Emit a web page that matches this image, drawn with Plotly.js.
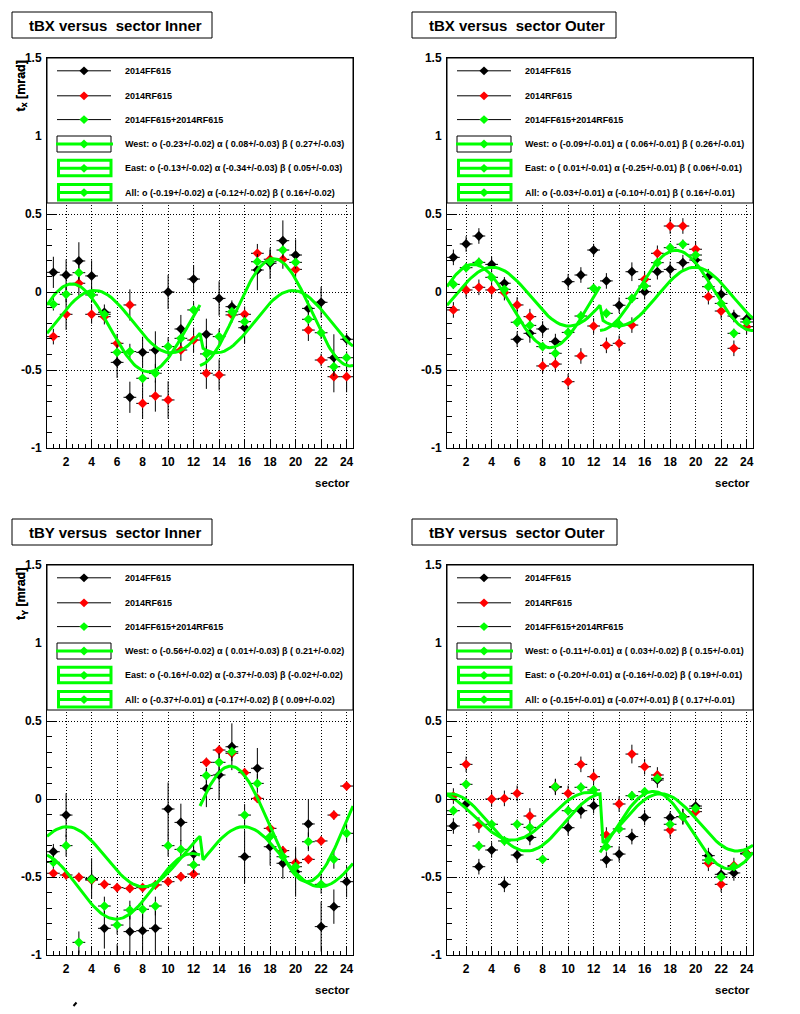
<!DOCTYPE html>
<html><head><meta charset="utf-8">
<script src="https://cdn.plot.ly/plotly-3.0.1.min.js"></script>
<style>html,body{margin:0;padding:0;background:#fff}#chart{width:800px;height:1014px}</style>
</head><body><div id="chart"></div>
<script>
// ---------------- data ----------------
const sectors = [1,2,3,4,5,6,7,8,9,10,11,12,13,14,15,16,17,18,19,20,21,22,23,24];
const sectorTickVals = [2,4,6,8,10,12,14,16,18,20,22,24];
const sectorTickText = ["2","4","6","8","10","12","14","16","18","20","22","24"];
const valueTickVals = [-1,-0.5,0,0.5,1,1.5];
const valueTickText = ["-1","-0.5","0","0.5","1","1.5"];
const seriesNames = ["2014FF615","2014RF615","2014FF615+2014RF615"];
const panelTitles = ["tBX versus\u00a0 sector Inner","tBX versus\u00a0 sector Outer","tBY versus\u00a0 sector Inner","tBY versus\u00a0 sector Outer"];
const panelYLabels = ["t<sub>x</sub> [mrad]","t<sub>x</sub> [mrad]","t<sub>Y</sub> [mrad]","t<sub>Y</sub> [mrad]"];
const xAxisLabel = "sector";

// tBX Inner
const tbxInnerFF    = [0.126,0.109,0.199,0.103,-0.13,-0.451,-0.675,-0.387,-0.372,0.0,-0.237,0.083,-0.271,-0.041,-0.094,-0.229,0.141,0.184,0.329,0.237,-0.105,-0.066,-0.421,-0.303];
const tbxInnerFFErr = [0.10,0.10,0.12,0.10,0.05,0.10,0.10,0.10,0.12,0.11,0.09,0.09,0.10,0.11,0.04,0.10,0.13,0.10,0.13,0.10,0.05,0.10,0.15,0.04];
const tbxInnerRF    = [-0.286,-0.143,0.056,-0.143,-0.158,-0.329,-0.083,-0.714,-0.667,-0.692,-0.372,-0.308,-0.521,-0.532,-0.147,-0.143,0.248,0.21,0.209,0.145,-0.244,-0.436,-0.543,-0.543];
const tbxInnerRFErr = [0.05,0.10,0.08,0.06,0.05,0.06,0.10,0.10,0.10,0.12,0.07,0.08,0.10,0.10,0.05,0.05,0.06,0.06,0.06,0.05,0.07,0.04,0.10,0.10];
const tbxInnerAll   = [-0.079,-0.015,0.124,-0.019,-0.143,-0.387,-0.382,-0.553,-0.521,-0.350,-0.297,-0.115,-0.397,-0.286,-0.126,-0.190,0.194,0.194,0.269,0.19,-0.175,-0.261,-0.479,-0.421];
const tbxInnerAllErr= [0.04,0.05,0.05,0.05,0.03,0.05,0.05,0.06,0.06,0.06,0.05,0.05,0.05,0.05,0.03,0.04,0.05,0.05,0.05,0.04,0.04,0.04,0.06,0.04];
const tbxInnerWest = [-0.23,0.08,0.27],  tbxInnerWestErr = [0.02,0.03,0.03];
const tbxInnerEast = [-0.13,-0.34,0.05], tbxInnerEastErr = [0.02,0.03,0.03];
const tbxInnerFit  = [-0.19,-0.12,0.16], tbxInnerFitErr  = [0.02,0.02,0.02];

// tBX Outer
const tbxOuterFF    = [0.222,0.308,0.359,0.177,0.056,-0.303,-0.265,-0.237,-0.318,0.066,0.109,0.269,0.071,-0.085,0.130,0.002,0.130,0.145,0.188,0.205,0.098,-0.015,-0.154,-0.173];
const tbxOuterFFErr = [0.05,0.05,0.05,0.05,0.04,0.05,0.06,0.05,0.05,0.05,0.05,0.04,0.05,0.05,0.06,0.05,0.05,0.05,0.05,0.05,0.05,0.05,0.04,0.04];
const tbxOuterRF    = [-0.115,0.013,0.030,0.013,-0.004,-0.083,-0.158,-0.474,-0.462,-0.575,-0.410,-0.218,-0.342,-0.329,-0.212,0.081,0.248,0.423,0.423,0.274,-0.030,-0.122,-0.361,-0.222];
const tbxOuterRFErr = [0.05,0.05,0.05,0.05,0.05,0.05,0.05,0.05,0.05,0.05,0.05,0.05,0.05,0.05,0.05,0.05,0.05,0.05,0.05,0.05,0.05,0.05,0.05,0.05];
const tbxOuterAll   = [0.049,0.156,0.190,0.094,0.017,-0.194,-0.214,-0.350,-0.393,-0.259,-0.154,0.024,-0.137,-0.207,-0.041,0.038,0.188,0.284,0.306,0.237,0.034,-0.073,-0.265,-0.192];
const tbxOuterAllErr= [0.03,0.03,0.03,0.03,0.03,0.03,0.03,0.03,0.03,0.03,0.03,0.03,0.03,0.03,0.03,0.03,0.03,0.03,0.03,0.03,0.03,0.03,0.03,0.03];
const tbxOuterWest = [-0.09,0.06,0.26],  tbxOuterWestErr = [0.01,0.01,0.01];
const tbxOuterEast = [0.01,-0.25,0.06],  tbxOuterEastErr = [0.01,0.01,0.01];
const tbxOuterFit  = [-0.03,-0.10,0.16], tbxOuterFitErr  = [0.01,0.01,0.01];

// tBY Inner
const tbyInnerFF    = [-0.338,-0.103,-1.12,-0.51,-0.829,-1.08,-0.850,-0.844,-0.829,-0.064,-0.150,-0.353,0.068,0.154,0.335,-0.370,0.197,-0.306,-0.412,-0.466,-0.160,-0.818,-0.690,-0.530];
const tbyInnerFFErr = [0.05,0.14,0.15,0.13,0.13,0.15,0.17,0.15,0.15,0.17,0.12,0.09,0.12,0.16,0.15,0.17,0.13,0.12,0.10,0.16,0.16,0.16,0.11,0.10];
const tbyInnerRF    = [-0.476,-0.487,-0.502,-0.52,-0.547,-0.568,-0.573,-0.568,-0.551,-0.530,-0.498,-0.481,0.235,0.314,0.293,0.169,0.004,-0.188,-0.331,-0.408,-0.387,-0.269,-0.103,0.083];
const tbyInnerRFErr = [0.03,0.03,0.03,0.03,0.03,0.03,0.03,0.03,0.03,0.03,0.03,0.03,0.03,0.03,0.03,0.03,0.03,0.03,0.03,0.03,0.03,0.03,0.03,0.03];
const tbyInnerAll   = [-0.406,-0.299,-0.919,-0.515,-0.686,-0.808,-0.712,-0.707,-0.686,-0.299,-0.323,-0.423,0.150,0.235,0.303,-0.103,0.100,-0.241,-0.370,-0.434,-0.274,-0.547,-0.387,-0.220];
const tbyInnerAllErr= [0.04,0.07,0.07,0.06,0.06,0.06,0.06,0.06,0.06,0.07,0.06,0.05,0.05,0.06,0.06,0.07,0.06,0.05,0.05,0.06,0.06,0.06,0.06,0.06];
const tbyInnerWest = [-0.56,0.01,0.21],   tbyInnerWestErr = [0.02,0.03,0.02];
const tbyInnerEast = [-0.16,-0.37,-0.02], tbyInnerEastErr = [0.02,0.03,0.02];
const tbyInnerFit  = [-0.37,-0.17,0.09],  tbyInnerFitErr  = [0.01,0.02,0.02];

// tBY Outer
const tbyOuterFF    = [-0.173,-0.032,-0.434,-0.327,-0.547,-0.359,-0.246,null,0.075,-0.184,-0.075,-0.043,-0.391,-0.353,-0.241,-0.118,0.122,-0.120,-0.113,-0.045,-0.363,-0.483,-0.474,-0.348];
const tbyOuterFFErr = [0.05,0.05,0.05,0.05,0.05,0.05,0.05,0.05,0.05,0.05,0.05,0.05,0.05,0.05,0.05,0.05,0.05,0.04,0.05,0.05,0.05,0.05,0.05,0.05];
const tbyOuterRF    = [0.019,0.222,-0.167,0.0,0.004,0.036,-0.109,null,0.08,0.036,0.222,0.143,-0.231,-0.032,0.288,0.207,0.154,-0.199,-0.113,-0.081,-0.412,-0.547,-0.427,-0.348];
const tbyOuterRFErr = [0.05,0.05,0.05,0.05,0.05,0.05,0.05,0.05,0.05,0.05,0.05,0.05,0.05,0.05,0.06,0.05,0.05,0.05,0.05,0.05,0.05,0.05,0.05,0.05];
const tbyOuterAll   = [-0.075,0.094,-0.301,-0.162,-0.269,-0.162,-0.182,-0.387,0.079,-0.075,0.075,0.058,-0.306,-0.192,0.021,0.047,0.132,-0.162,-0.113,-0.060,-0.391,-0.500,-0.434,-0.353];
const tbyOuterAllErr= [0.03,0.03,0.03,0.03,0.03,0.03,0.03,0.03,0.03,0.03,0.03,0.03,0.03,0.03,0.03,0.03,0.03,0.03,0.03,0.03,0.03,0.03,0.03,0.03];
const tbyOuterWest = [-0.11,0.03,0.15],  tbyOuterWestErr = [0.01,0.02,0.01];
const tbyOuterEast = [-0.20,-0.16,0.19], tbyOuterEastErr = [0.01,0.02,0.01];
const tbyOuterFit  = [-0.15,-0.07,0.17], tbyOuterFitErr  = [0.01,0.01,0.01];

// ---------------- layout helpers ----------------
const W = 800, H = 1014;
const px = x => x / W, py = y => 1 - y / H;
const FONT = 'Liberation Sans, Arial, Helvetica, sans-serif';
const GREEN = '#00ff00', RED = '#ff0000', BLACK = '#000000';

const panels = [
  {kind:'X', frame:{x0:47,x1:353,y0:58,y1:448},  titleBox:{x0:12,x1:212,y0:12,y1:38},
   ff:tbxInnerFF, ffErr:tbxInnerFFErr, rf:tbxInnerRF, rfErr:tbxInnerRFErr, all:tbxInnerAll, allErr:tbxInnerAllErr,
   west:tbxInnerWest, westErr:tbxInnerWestErr, east:tbxInnerEast, eastErr:tbxInnerEastErr, fit:tbxInnerFit, fitErr:tbxInnerFitErr},
  {kind:'X', frame:{x0:447,x1:753,y0:58,y1:448}, titleBox:{x0:412,x1:616,y0:12,y1:38},
   ff:tbxOuterFF, ffErr:tbxOuterFFErr, rf:tbxOuterRF, rfErr:tbxOuterRFErr, all:tbxOuterAll, allErr:tbxOuterAllErr,
   west:tbxOuterWest, westErr:tbxOuterWestErr, east:tbxOuterEast, eastErr:tbxOuterEastErr, fit:tbxOuterFit, fitErr:tbxOuterFitErr},
  {kind:'Y', frame:{x0:47,x1:353,y0:565,y1:955}, titleBox:{x0:12,x1:212,y0:519,y1:545},
   ff:tbyInnerFF, ffErr:tbyInnerFFErr, rf:tbyInnerRF, rfErr:tbyInnerRFErr, all:tbyInnerAll, allErr:tbyInnerAllErr,
   west:tbyInnerWest, westErr:tbyInnerWestErr, east:tbyInnerEast, eastErr:tbyInnerEastErr, fit:tbyInnerFit, fitErr:tbyInnerFitErr},
  {kind:'Y', frame:{x0:447,x1:753,y0:565,y1:955}, titleBox:{x0:412,x1:617,y0:519,y1:545},
   ff:tbyOuterFF, ffErr:tbyOuterFFErr, rf:tbyOuterRF, rfErr:tbyOuterRFErr, all:tbyOuterAll, allErr:tbyOuterAllErr,
   west:tbyOuterWest, westErr:tbyOuterWestErr, east:tbyOuterEast, eastErr:tbyOuterEastErr, fit:tbyOuterFit, fitErr:tbyOuterFitErr}
];

// fit model with the parameters printed in each legend (o, alpha, beta); phase 30 deg per sector
function fitValue(kind, side, p, s) {
  const th = s * Math.PI / 6;
  const sg = side === 'W' ? 1 : -1;
  if (kind === 'X') return p[0] + p[1] * Math.cos(th) + sg * p[2] * Math.sin(th);
  return p[0] - p[1] * Math.sin(th) + sg * p[2] * Math.cos(th);
}
function fitCurve(kind, p, s0, s1, n, fixedSide) {
  const xs = [], ys = [];
  for (let i = 0; i <= n; i++) {
    const s = s0 + (s1 - s0) * i / n;
    const side = fixedSide || (s <= 12.5 ? 'W' : 'E');
    xs.push(s); ys.push(fitValue(kind, side, p, s));
  }
  return {xs, ys};
}
const fmt = v => (v < 0 ? '-' : '\u00a0') + Math.abs(v).toFixed(2);
const fitLabel = (name, p, e) => `${name}: o (${fmt(p[0])}+/-${e[0].toFixed(2)}) \u03b1 (${fmt(p[1])}+/-${e[1].toFixed(2)}) \u03b2 (${fmt(p[2])}+/-${e[2].toFixed(2)})`;

const traces = [], shapes = [], annotations = [];
const layout = {width: W, height: H, margin: {l:0, r:0, t:0, b:0}, paper_bgcolor:'#fff', plot_bgcolor:'#fff', showlegend:false};

function diamondPath(cx, cy, hw, hh) {
  return `M ${px(cx-hw)},${py(cy)} L ${px(cx)},${py(cy-hh)} L ${px(cx+hw)},${py(cy)} L ${px(cx)},${py(cy+hh)} Z`;
}
function pRect(x0, y0, x1, y1, color, width, fill) {
  shapes.push({type:'rect', xref:'paper', yref:'paper', x0:px(x0), x1:px(x1), y0:py(y1), y1:py(y0),
    line:{color, width}, fillcolor: fill || 'rgba(0,0,0,0)', layer:'above'});
}
function pLine(x0, y0, x1, y1, color, width) {
  shapes.push({type:'line', xref:'paper', yref:'paper', x0:px(x0), x1:px(x1), y0:py(y0), y1:py(y1),
    line:{color, width}, layer:'above'});
}
function pDiamond(cx, cy, color) {
  shapes.push({type:'path', xref:'paper', yref:'paper', path:diamondPath(cx, cy, 4.6, 4.4),
    fillcolor:color, line:{width:0}, layer:'above'});
}
function pText(x, y, text, size, xanchor, extra) {
  annotations.push(Object.assign({xref:'paper', yref:'paper', x:px(x), y:py(y), text, showarrow:false,
    xanchor: xanchor || 'left', yanchor:'middle', font:{family:FONT, size, color:BLACK, weight:'bold'}}, extra || {}));
}

panels.forEach((P, i) => {
  const sfx = i === 0 ? '' : String(i + 1);
  const f = P.frame;
  const common = {showline:true, linecolor:BLACK, linewidth:1, mirror:true, zeroline:false,
    ticks:'inside', tickcolor:BLACK, tickwidth:1, showgrid:true, gridcolor:BLACK, gridwidth:1, griddash:'1px,2px',
    tickfont:{family:FONT, size:12, color:BLACK, weight:'bold'}, fixedrange:true, tickmode:'array'};
  layout['xaxis' + sfx] = Object.assign({}, common, {domain:[px(f.x0), px(f.x1)], range:[0.5, 24.5], anchor:'y' + sfx,
    tickvals:sectorTickVals, ticktext:sectorTickText, ticklen:8, ticklabelstandoff:3,
    minor:{tickmode:'linear', tick0:0.5, dtick:0.5, ticks:'inside', ticklen:4, tickcolor:BLACK, tickwidth:1, showgrid:false}});
  layout['yaxis' + sfx] = Object.assign({}, common, {domain:[py(f.y1), py(f.y0)], range:[-1, 1.5], anchor:'x' + sfx,
    tickvals:valueTickVals, ticktext:valueTickText, ticklen:10, ticklabelstandoff:2,
    minor:{tickmode:'linear', tick0:0, dtick:0.1, ticks:'inside', ticklen:5, tickcolor:BLACK, tickwidth:1, showgrid:false}});

  const pt = (y, err, color) => ({type:'scatter', mode:'markers', x:sectors, y, xaxis:'x' + sfx, yaxis:'y' + sfx,
    marker:{symbol:'diamond', size:7.5, color, line:{width:0}},
    error_y:{type:'data', array:err, visible:true, color:BLACK, thickness:1, width:0},
    error_x:{type:'constant', value:0.5, visible:true, color:BLACK, thickness:1, width:0},
    hoverinfo:'skip', showlegend:false});
  traces.push(pt(P.ff, P.ffErr, BLACK), pt(P.rf, P.rfErr, RED), pt(P.all, P.allErr, GREEN));

  const curves = [fitCurve(P.kind, P.west, 0.5, 12.5, 100, 'W'), fitCurve(P.kind, P.east, 12.5, 24.5, 100, 'E'),
                  fitCurve(P.kind, P.fit, 0.5, 24.5, 100, null)];
  curves.forEach(c => traces.push({type:'scatter', mode:'lines', x:c.xs, y:c.ys, xaxis:'x' + sfx, yaxis:'y' + sfx,
    line:{color:GREEN, width:3}, hoverinfo:'skip', showlegend:false}));

  // title box
  const tb = P.titleBox;
  pRect(tb.x0, tb.y0, tb.x1, tb.y1, BLACK, 1, '#fff');
  pText(tb.x0 + 15, (tb.y0 + tb.y1) / 2, panelTitles[i], 15, 'left');

  // y label & x label
  annotations.push({xref:'paper', yref:'paper', x:px(22), y:py(f.y0 + 1), text:panelYLabels[i], showarrow:false,
    textangle:-90, xanchor:'center', yanchor:'top', font:{family:FONT, size:12.5, color:BLACK, weight:'bold'}});
  pText(f.x1 - 1, f.y1 + 35, xAxisLabel, 11.5, 'right');

  // legend box
  const L = f.x0, T = f.y0;
  pRect(L, T, f.x1, T + 145, BLACK, 1, '#fff');
  const rows = [12.8, 37.8, 61.6, 86, 110.3, 134.6];
  const mk = [BLACK, RED, GREEN];
  for (let r = 0; r < 3; r++) {
    pLine(L + 10, T + rows[r], L + 64, T + rows[r], BLACK, 1);
    pDiamond(L + 37, T + rows[r], mk[r]);
    pText(L + 76, T + rows[r], seriesNames[r], 9, 'left');
  }
  // West
  pRect(L + 10, T + 78, L + 64, T + 94, BLACK, 1);
  pLine(L + 9, T + 86, L + 66, T + 86, GREEN, 3);
  pDiamond(L + 37, T + 86, GREEN);
  pText(L + 76, T + rows[3], fitLabel('West', P.west, P.westErr), 9, 'left');
  // East, All
  [[110.3, 'East', P.east, P.eastErr], [134.6, 'All', P.fit, P.fitErr]].forEach(([cy, nm, p, e]) => {
    pRect(L + 11.5, T + cy - 8, L + 64, T + cy + 7.5, GREEN, 3);
    pLine(L + 11, T + cy, L + 64, T + cy, GREEN, 3);
    pDiamond(L + 37, T + cy, GREEN);
    pText(L + 76, T + cy, fitLabel(nm, p, e), 9, 'left');
  });
});

// small stray stroke at lower left of the canvas
pLine(73.5, 1006, 76.5, 1002.5, BLACK, 2);

layout.shapes = shapes;
layout.annotations = annotations;
Plotly.newPlot('chart', traces, layout, {staticPlot:true, displayModeBar:false});
</script>
</body></html>
